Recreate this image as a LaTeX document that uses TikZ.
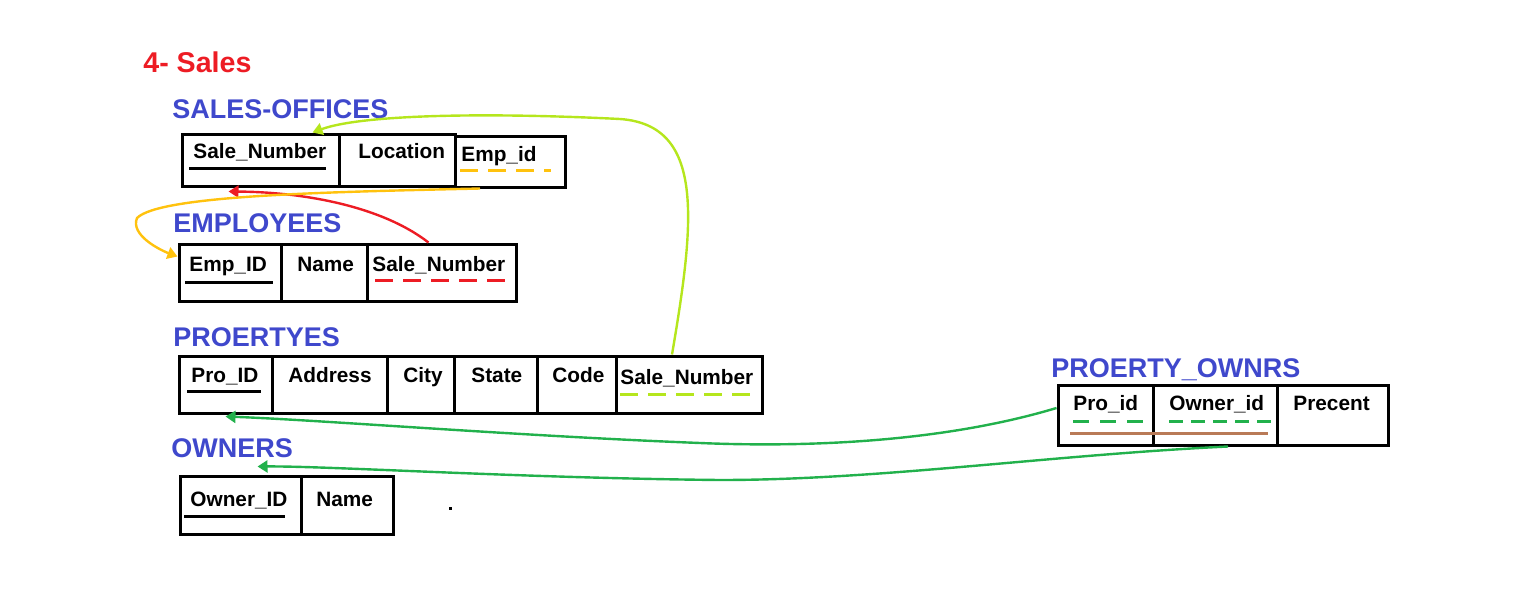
\documentclass[tikz,border=0pt]{standalone}
\usepackage{fontspec}
\setmainfont{Liberation Sans}
\usetikzlibrary{arrows.meta}
\definecolor{tblue}{HTML}{3F48CC}
\definecolor{tred}{HTML}{ED1C24}
\definecolor{tlime}{HTML}{B5E61D}
\definecolor{torange}{HTML}{FFC20E}
\definecolor{tgreen}{HTML}{22B14C}
\definecolor{tbrown}{HTML}{B97A57}

\begin{document}
\begin{tikzpicture}[x=0.5pt,y=-0.5pt,
  cell/.style 2 args={draw, line width=1.5pt, inner sep=0pt, minimum width=#1, minimum height=#2},
  title/.style={text=tblue, font=\bfseries\fontsize{13.5}{15}\selectfont, anchor=base west, inner sep=0pt},
  field/.style={font=\bfseries\fontsize{10.4}{12}\selectfont, anchor=base west, inner sep=0pt},
  keyline/.style={line width=1.5pt},
  fkline/.style={line width=1.5pt, dash pattern=on 9pt off 5pt},
  link/.style={line width=1.2pt, -{Triangle[length=5pt,width=6pt]}}]
  \useasboundingbox (0,0) rectangle (1532,600);

  % Titles
  \node[title, text=tred, font=\bfseries\fontsize{14.3}{16}\selectfont] (sales) at (143,72) {4- Sales};
  \node[title] (soTitle) at (172,118) {SALES-OFFICES};
  \node[title] (emTitle) at (173,232) {EMPLOYEES};
  \node[title] (prTitle) at (173,346) {PROERTYES};
  \node[title] (owTitle) at (171,457) {OWNERS};
  \node[title] (poTitle) at (1051,377) {PROERTY\_OWNRS};

  % SALES-OFFICES
  \node[cell={78.5pt}{26pt}] (soNum) at (260.5,160) {};
  \node[cell={58pt}{26pt}] (soLoc) at (397,160) {};
  \node[cell={55pt}{25.5pt}] (soEmp) at (510,161.5) {};
  \node[field] (soNumT) at (193,158) {Sale\_Number};
  \node[field] (soLocT) at (358,158) {Location};
  \node[field] (soEmpT) at (461,161) {Emp\_id};
  \draw[keyline] (189,168) -- (326,168);
  \draw[fkline, torange] (460,170) -- (551,170);

  % EMPLOYEES
  \node[cell={51pt}{28.5pt}] (emId) at (230,272.5) {};
  \node[cell={43pt}{28.5pt}] (emName) at (324,272.5) {};
  \node[cell={74.5pt}{28.5pt}] (emSale) at (441.5,272.5) {};
  \node[field] (emIdT) at (189,271) {Emp\_ID};
  \node[field] (emNameT) at (297,271) {Name};
  \node[field] (emSaleT) at (372,271) {Sale\_Number};
  \draw[keyline] (185,282) -- (273,282);
  \draw[fkline, tred] (375,280) -- (510,280);

  % PROERTYES
  \node[cell={46.5pt}{28.5pt}] (prId) at (225.5,384.5) {};
  \node[cell={57.5pt}{28.5pt}] (prAddr) at (329.5,384.5) {};
  \node[cell={33.5pt}{28.5pt}] (prCity) at (420.5,384.5) {};
  \node[cell={41.5pt}{28.5pt}] (prState) at (495.5,384.5) {};
  \node[cell={39.5pt}{28.5pt}] (prCode) at (576.5,384.5) {};
  \node[cell={73pt}{28.5pt}] (prSale) at (689,384.5) {};
  \node[field] (prIdT) at (191,382) {Pro\_ID};
  \node[field] (prAddrT) at (288,382) {Address};
  \node[field] (prCityT) at (403,382) {City};
  \node[field] (prStateT) at (471,382) {State};
  \node[field] (prCodeT) at (552,382) {Code};
  \node[field] (prSaleT) at (620,384) {Sale\_Number};
  \draw[keyline] (187,391) -- (261,391);
  \draw[fkline, tlime] (620,394) -- (753,394);

  % OWNERS
  \node[cell={60.5pt}{29pt}] (owId) at (240.5,505) {};
  \node[cell={46pt}{29pt}] (owName) at (347,505) {};
  \node[field] (owIdT) at (190,506) {Owner\_ID};
  \node[field] (owNameT) at (316,506) {Name};
  \draw[keyline] (184,516) -- (285,516);
  \fill (448.5,506.5) rectangle (451.5,509.5);

  % PROERTY_OWNRS
  \node[cell={47.5pt}{30pt}] (poPro) at (1105.5,415) {};
  \node[cell={62pt}{30pt}] (poOwn) at (1215,415) {};
  \node[cell={55.5pt}{30pt}] (poPct) at (1332.5,415) {};
  \node[field] (poProT) at (1073,410) {Pro\_id};
  \node[field] (poOwnT) at (1169,410) {Owner\_id};
  \node[field] (poPctT) at (1293,410) {Precent};
  \draw[line width=1.5pt, tgreen, dash pattern=on 8pt off 5.5pt] (1073,421) -- (1145,421);
  \draw[line width=1.5pt, tgreen, dash pattern=on 7pt off 4pt] (1169,421) -- (1271,421);
  \draw[keyline, tbrown] (1070,433) -- (1268,433);

  % Links
  \draw[link, tlime] ([xshift=-8.5pt]prSale.north) .. controls (695,220) and (705,125) .. (620,119)
    .. controls (480,112) and (360,115) .. ([xshift=26pt]soNum.north);
  \draw[link, tred] ([xshift=-6.5pt]emSale.north) .. controls (380,205) and (300,192) .. ([xshift=-16pt,yshift=-2pt]soNum.south);
  \draw[link, torange] ([xshift=-15pt]soEmp.south) .. controls (330,192) and (160,195) .. (137,218)
    .. controls (130,235) and (160,250) .. ([yshift=8pt]emId.west);
  \draw[link, tgreen] ([yshift=3.5pt]poPro.west) .. controls (950,440) and (820,448) .. (700,443)
    .. controls (520,436) and (320,420) .. ([yshift=-1pt]prId.south);
  \draw[link, tgreen] ([xshift=6.5pt]poOwn.south) .. controls (1050,455) and (880,480) .. (720,480)
    .. controls (520,478) and (330,466) .. ([xshift=8.5pt,yshift=4pt]owId.north);
\end{tikzpicture}
\end{document}
